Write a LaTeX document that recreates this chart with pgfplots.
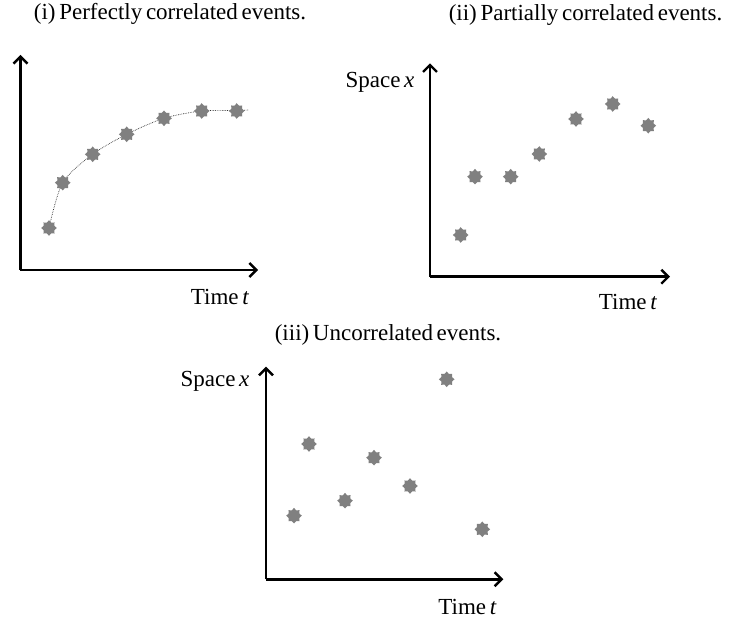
\documentclass[border=0pt]{standalone}
\usepackage{pgfplots}
\pgfplotsset{compat=1.18}
\usetikzlibrary{arrows.meta}
\usepackage{fontspec}
\setmainfont{Liberation Serif}
\definecolor{markgray}{RGB}{128,128,128}
\newcommand\labfont{\fontsize{23}{26}\selectfont\spaceskip=0.16em plus 0.05em\relax}
\pgfdeclareplotmark{gear}{%
  \pgfpathmoveto{\pgfpointpolar{90}{\pgfplotmarksize}}%
  \foreach \i in {1,...,15}{%
    \pgfmathsetmacro\ang{90+22.5*\i}%
    \pgfmathsetmacro\rr{mod(\i,2)==0 ? 1 : 0.74}%
    \pgfpathlineto{\pgfpointpolar{\ang}{\rr\pgfplotmarksize}}%
  }%
  \pgfpathclose
  \pgfusepathqfill
}
\tikzset{axarrow/.style={line width=2.6pt, -{Straight Barb[length=7pt,width=14pt,line width=2.4pt]}}}
\pgfplotsset{myax/.style={anchor=origin, x=1pt, y=1pt, axis lines=left,
  xmin=0, ymin=0, xtick=\empty, ytick=\empty, clip=false,
  every outer x axis line/.append style={axarrow},
  every outer y axis line/.append style={axarrow}},
  gearmark/.style={only marks, mark=gear, mark size=7.8pt, color=markgray}}
\begin{document}
\begin{tikzpicture}[x=1pt,y=1pt, every node/.style={font=\labfont}]
\path (0,0) rectangle (730,617);
% panel (i)
\begin{axis}[myax, at={(20.5,347)}, xmax=237.5, ymax=215]
\addplot[smooth, densely dotted, line width=0.7pt, black!80] coordinates {
(28.5,42) (42.2,87.3) (72.2,115.7) (106.2,135.7) (143.5,151.7) (181.2,159) (216.2,159.5) (228,160)};
\addplot[gearmark] coordinates {
(28.5,42) (42.2,87.3) (72.2,115.7) (106.2,135.7) (143.5,151.7) (181.2,159) (216.2,159)};
\end{axis}
% panel (ii)
\begin{axis}[myax, at={(430,340.3)}, xmax=240, ymax=213.4]
\addplot[gearmark] coordinates {
(30.7,41.7) (45,100) (80.7,100) (109.3,122.7) (146,157.7) (182.7,172.7) (218.3,151)};
\end{axis}
% panel (iii)
\begin{axis}[myax, at={(266,37.7)}, xmax=237.3, ymax=212.6]
\addplot[gearmark] coordinates {
(28,63.6) (43,135.3) (79,78.6) (108,121.6) (144,93.3) (180.7,200) (216.3,50)};
\end{axis}
% labels
\node at (170,603) {(i) Perfectly correlated events.};
\node at (585.5,602) {(ii) Partially correlated events.};
\node at (388,282) {(iii) Uncorrelated events.};
\node at (220,320) {Time \textit{t}};
\node at (628,315) {Time \textit{t}};
\node at (467.5,10) {Time \textit{t}};
\node at (380,535) {Space \textit{x}};
\node at (215,236) {Space \textit{x}};
\end{tikzpicture}
\end{document}
